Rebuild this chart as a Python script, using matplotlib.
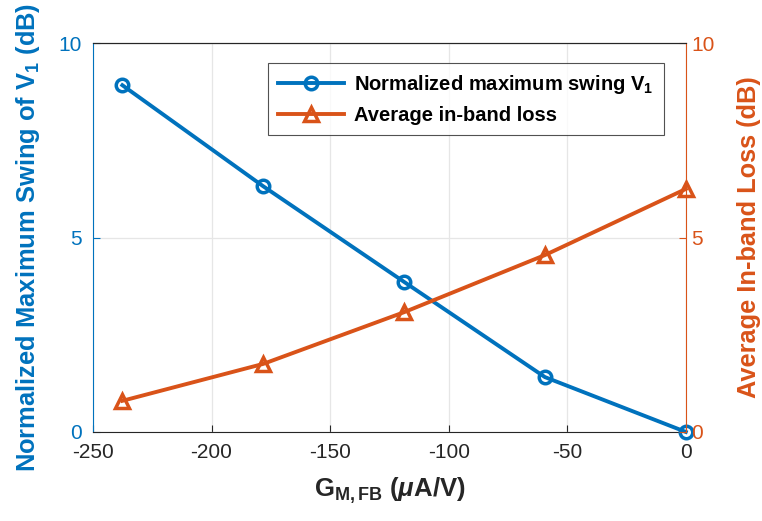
import matplotlib
matplotlib.use("Agg")
import matplotlib.pyplot as plt

x_vals = [-237.6, -178.2, -118.8, -59.4, 0]
swing = [8.92, 6.32, 3.86, 1.41, 0.0]
loss = [0.80, 1.75, 3.08, 4.55, 6.25]
x_ticks = [-250, -200, -150, -100, -50, 0]
y_ticks = [0, 5, 10]

blue = "#0072BD"
orange = "#D95319"

plt.rcParams['font.family'] = ['Liberation Sans', 'DejaVu Sans']
plt.rcParams['axes.unicode_minus'] = False
plt.rcParams['mathtext.fontset'] = 'custom'
plt.rcParams['mathtext.it'] = 'Liberation Sans:italic:bold'
plt.rcParams['mathtext.rm'] = 'Liberation Sans:bold'
plt.rcParams['mathtext.bf'] = 'Liberation Sans:bold'

fig = plt.figure(figsize=(7.62, 5.21), dpi=100)
ax = fig.add_axes([0.122, 0.171, 0.778, 0.746])
ax2 = ax.twinx()

l1, = ax.plot(x_vals, swing, color=blue, lw=2.8, marker='o', ms=9,
              mfc='none', mew=2.5, label=r'Normalized maximum swing V$_1$',
              clip_on=False, zorder=5)
l2, = ax2.plot(x_vals, loss, color=orange, lw=2.8, marker='^', ms=10,
               mfc='none', mew=2.5, label='Average in-band loss',
               clip_on=False, zorder=5)

ax.set_xlim(-250, 0)
ax.set_ylim(0, 10)
ax2.set_ylim(0, 10)
ax.set_xticks(x_ticks)
ax.set_yticks(y_ticks)
ax2.set_yticks(y_ticks)

ax.grid(True, color='#e6e6e6', lw=0.9)
ax.set_axisbelow(True)

for a in (ax, ax2):
    a.tick_params(direction='in', length=5, labelsize=15)
ax.tick_params(axis='x', colors='#262626', pad=8)
ax.tick_params(axis='y', colors=blue, pad=8)
ax2.tick_params(axis='y', colors=orange, pad=4)

ax.spines['left'].set_color(blue)
ax.spines['bottom'].set_color('#262626')
ax.spines['top'].set_color('#262626')
ax2.spines['right'].set_color(orange)
ax2.spines['left'].set_visible(False)
ax2.spines['top'].set_color('#262626')
ax2.spines['bottom'].set_visible(False)
for s in list(ax.spines.values()) + list(ax2.spines.values()):
    s.set_linewidth(0.8)
ax.spines['right'].set_visible(False)

ax.set_xlabel(r'G$_{\mathbf{M,FB}}$ ($\mu$A/V)', fontsize=18.5, fontweight='bold',
              color='#262626', labelpad=10)
ax.set_ylabel(r'Normalized Maximum Swing of V$_1$ (dB)', fontsize=18.4,
              fontweight='bold', color=blue, labelpad=12)
ax2.set_ylabel('Average In-band Loss (dB)', fontsize=18.3, fontweight='bold',
               color=orange, labelpad=16)

leg = ax2.legend(handles=[l1, l2], loc='upper right', bbox_to_anchor=(0.98, 0.975),
                 prop={'weight': 'bold', 'size': 14.5},
                 frameon=True, fancybox=False, edgecolor='#262626',
                 handlelength=3.3, borderpad=0.5, labelspacing=0.5,
                 handletextpad=0.5)
leg.get_frame().set_linewidth(0.8)

fig.savefig('out.png', dpi=100)
